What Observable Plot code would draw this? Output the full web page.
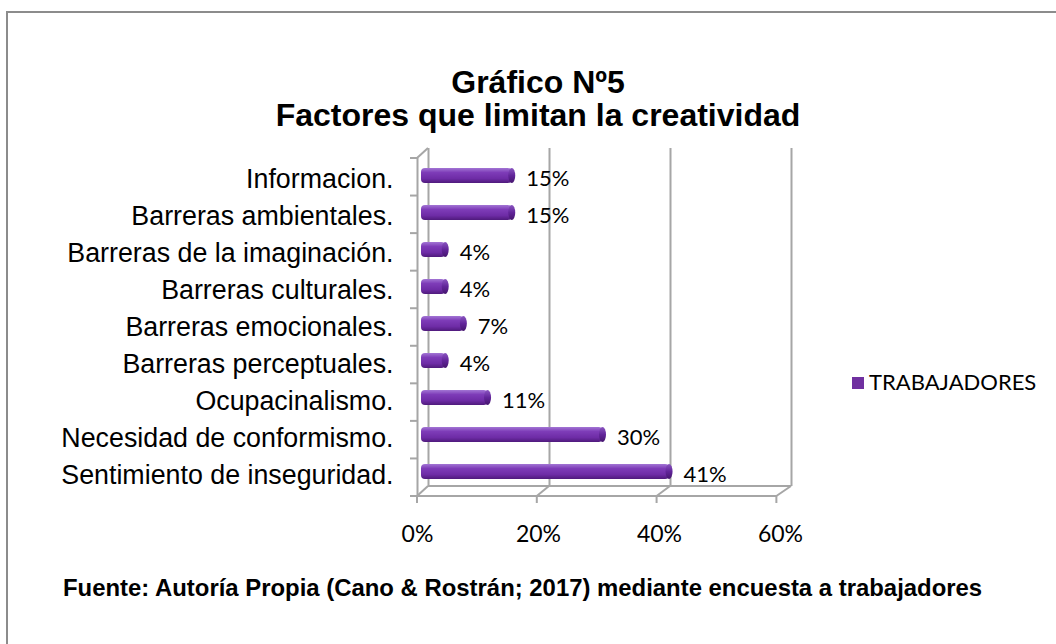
<!DOCTYPE html>
<html>
<head>
<meta charset="utf-8">
<script src="https://cdn.jsdelivr.net/npm/d3@7"></script>
<script src="https://cdn.jsdelivr.net/npm/@observablehq/plot@0.6"></script>
<style>
  html, body { margin: 0; padding: 0; background: #fff; }
  #wrap { position: relative; width: 1056px; height: 644px; overflow: hidden; background: #fff; }
  #border { position: absolute; left: 6px; top: 11px; width: 1100px; height: 700px; border-left: 2px solid #8c8c8c; border-top: 2px solid #8c8c8c; box-sizing: border-box; }
  #title { position: absolute; left: 0; width: 1076px; top: 66px; text-align: center; font-family: "Liberation Sans", Arial, sans-serif; font-weight: bold; font-size: 32px; line-height: 33px; color: #000; }
  #caption { position: absolute; left: 63px; top: 575px; font-family: "Liberation Sans", Arial, sans-serif; font-weight: bold; font-size: 23.9px; line-height: 26px; color: #000; white-space: nowrap; }
  #legend { position: absolute; left: 852px; top: 370px; font-family: Lato, "Open Sans", sans-serif; font-size: 22px; line-height: 24px; color: #000; white-space: nowrap; }
  #legend .sw { display: inline-block; width: 12px; height: 12px; background: #7030a0; margin-right: 5px; vertical-align: 1px; }
  #chart { position: absolute; left: 0; top: 0; }
</style>
</head>
<body>
<div id="wrap">
  <div id="border"></div>
  <div id="chart"></div>
  <div id="title">Gráfico Nº5<br>Factores que limitan la creatividad</div>
  <div id="legend"><span class="sw"></span>TRABAJADORES</div>
  <div id="caption">Fuente: Autoría Propia (Cano &amp; Rostrán; 2017) mediante encuesta a trabajadores</div>
</div>
<script>
const categories = [
  "Informacion.",
  "Barreras ambientales.",
  "Barreras de la imaginación.",
  "Barreras culturales.",
  "Barreras emocionales.",
  "Barreras perceptuales.",
  "Ocupacinalismo.",
  "Necesidad de conformismo.",
  "Sentimiento de inseguridad."
];
const values = [0.15, 0.15, 0.04, 0.04, 0.07, 0.04, 0.11, 0.30, 0.41];
const valueLabels = ["15%", "15%", "4%", "4%", "7%", "4%", "11%", "30%", "41%"];
const xTicks = [0, 0.2, 0.4, 0.6];
const xTickLabels = ["0%", "20%", "40%", "60%"];
const seriesName = "TRABAJADORES";

const data = categories.map((c, i) => ({cat: c, v: values[i], label: valueLabels[i]}));
const gridStroke = "#a6a6a6";

const plot = Plot.plot({
  width: 1056,
  height: 644,
  marginLeft: 421,
  marginRight: 272,
  marginTop: 154,
  marginBottom: 152,
  style: {background: "transparent", overflow: "visible"},
  x: {domain: [0, 0.6], axis: null},
  y: {domain: categories, paddingInner: 0.6, paddingOuter: 0.3, axis: null},
  marks: [
    // back wall verticals
    Plot.ruleX(xTicks, {x: d => d, dx: 7, dy: -6, stroke: gridStroke, strokeWidth: 2}),
    // front left axis
    Plot.ruleX([0], {x: d => d, dx: -4, dy: 4, stroke: gridStroke, strokeWidth: 2}),
    // bars (cylinders)
    Plot.barX(data, {x: "v", y: "cat", fill: "url(#barGrad)", rx: 4}),
    Plot.barX(data, {x1: "v", x2: "v", y: "cat", insetLeft: -3.5, insetRight: -3.5, rx: 3.5, ry: 7.5, fill: "url(#capGrad)"}),
    // value labels
    Plot.text(data, {x: "v", y: "cat", text: "label", dx: 14, dy: 3, textAnchor: "start", fontSize: 22, fontFamily: "Lato, 'Open Sans', sans-serif", fill: "#000"}),
    // category labels
    Plot.text(categories, {y: d => d, text: d => d, frameAnchor: "left", dx: -28, dy: 3, textAnchor: "end", fontSize: 26.8, fontFamily: "'Liberation Sans', Arial, sans-serif", fill: "#000"}),
    // x tick labels
    Plot.text(xTicks, {x: d => d, text: (d, i) => xTickLabels[i], frameAnchor: "bottom", dx: -4, dy: 49, fontSize: 23, fontFamily: "Lato, 'Open Sans', sans-serif", fill: "#000"})
  ]
});

// gradients and 3D frame pieces drawn with the plot's own scales
const svg = d3.select(plot);
const defs = svg.insert("defs", ":first-child");
const g1 = defs.append("linearGradient").attr("id", "barGrad").attr("x1", 0).attr("y1", 0).attr("x2", 0).attr("y2", 1);
[["0%", "#a275d4"], ["30%", "#7e3cb8"], ["70%", "#6e2ca6"], ["100%", "#4f1a7c"]].forEach(([o, c]) => g1.append("stop").attr("offset", o).attr("stop-color", c));
const g2 = defs.append("linearGradient").attr("id", "capGrad").attr("x1", 0).attr("y1", 0).attr("x2", 0).attr("y2", 1);
[["0%", "#8a55c0"], ["50%", "#62259a"], ["100%", "#45156e"]].forEach(([o, c]) => g2.append("stop").attr("offset", o).attr("stop-color", c));

const xs = plot.scale("x");
const ys = plot.scale("y");
const [yTop, yBot] = ys.range;
const step = (yBot - yTop) / categories.length;
const X = v => xs.apply(v);
const frameG = svg.insert("g", "g").attr("stroke", gridStroke).attr("stroke-width", 2).attr("fill", "none");
// floor front & back edges
frameG.append("line").attr("x1", X(0) - 4).attr("x2", X(0.6) - 7).attr("y1", yBot + 4).attr("y2", yBot + 4);
frameG.append("line").attr("x1", X(0) + 7).attr("x2", X(0.6) + 7).attr("y1", yBot - 6).attr("y2", yBot - 6);
// diagonals on the floor + tick marks below front edge
xTicks.forEach((v, i) => {
  const fx = X(0) - 4 + (X(v) - X(0)) * 0.99;
  frameG.append("line").attr("x1", fx).attr("y1", yBot + 4).attr("x2", X(v) + 7).attr("y2", yBot - 6);
  frameG.append("line").attr("x1", fx).attr("y1", yBot + 4).attr("x2", fx).attr("y2", yBot + 11);
});
// left wall top diagonal
frameG.append("line").attr("x1", X(0) - 4).attr("y1", yTop + 4).attr("x2", X(0) + 7).attr("y2", yTop - 6);
// category ticks on the front left axis
for (let k = 0; k <= categories.length; k++) {
  const yy = yTop + 4 + k * step;
  frameG.append("line").attr("x1", X(0) - 11).attr("x2", X(0) - 4).attr("y1", yy).attr("y2", yy);
}
svg.selectAll("rect").attr("shape-rendering", null);

document.getElementById("chart").appendChild(plot);
</script>
</body>
</html>
